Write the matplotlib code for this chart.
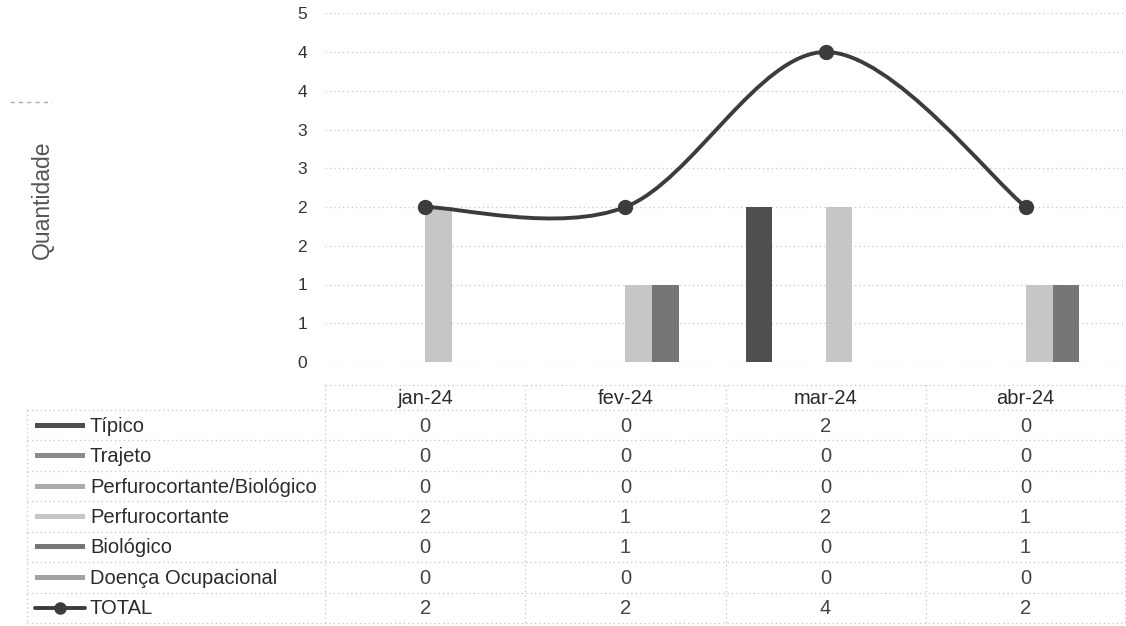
import numpy as np
import matplotlib
matplotlib.use("Agg")
import matplotlib.pyplot as plt
from matplotlib.path import Path
from matplotlib.patches import PathPatch, Rectangle
from matplotlib.lines import Line2D

plt.rcParams['font.family'] = ['Liberation Sans', 'DejaVu Sans']

# ---- data ----
months = ["jan-24", "fev-24", "mar-24", "abr-24"]
series_names = ["Típico", "Trajeto", "Perfurocortante/Biológico",
                "Perfurocortante", "Biológico", "Doença Ocupacional"]
tipico = [0, 0, 2, 0]
trajeto = [0, 0, 0, 0]
perf_bio = [0, 0, 0, 0]
perfuro = [2, 1, 2, 1]
biologico = [0, 1, 0, 1]
doenca = [0, 0, 0, 0]
total = [2, 2, 4, 2]
y_ticks = [0, 0.5, 1, 1.5, 2, 2.5, 3, 3.5, 4, 4.5]
y_tick_labels = ["0", "1", "1", "2", "2", "3", "3", "4", "4", "5"]
y_label = "Quantidade"
total_name = "TOTAL"

series = [tipico, trajeto, perf_bio, perfuro, biologico, doenca]
colors = ["#4f4f4f", "#8a8a8a", "#ababab", "#c6c6c6", "#767676", "#a2a2a2"]
line_color = "#3c3c3c"
grid_color = "#c8c8c8"
text_color = "#2b2b2b"

W, H = 1126, 626
fig = plt.figure(figsize=(W / 100, H / 100), dpi=100)

# chart axes (pixel layout)
ax_l, ax_r = 325, 1126
ax_top, ax_bot = 13.25, 362
ax = fig.add_axes([ax_l / W, 1 - ax_bot / H, (ax_r - ax_l) / W, (ax_bot - ax_top) / H])
ax.set_xlim(-0.5, 3.5)
ax.set_ylim(0, 4.5)
for s in ax.spines.values():
    s.set_visible(False)
ax.set_xticks([])
ax.set_yticks(y_ticks)
ax.set_yticklabels(y_tick_labels, fontsize=12.5, color="#333333")
ax.tick_params(axis="y", length=0, pad=13)
ax.yaxis.grid(True, linestyle=(0, (1, 2.5)), color=grid_color, linewidth=0.9)
ax.set_axisbelow(True)

x = np.arange(len(months))
n = len(series)
gap = 1.5
slot = 1.0 / (n + gap)
for i, (vals, c) in enumerate(zip(series, colors)):
    centers = x - 0.5 + gap / 2 * slot + (i + 0.5) * slot
    ax.bar(centers, vals, width=slot, color=c, edgecolor="none", zorder=2)

# smoothed TOTAL line (Catmull-Rom style bezier like Excel)
pts = np.column_stack([x, total]).astype(float)
verts = [tuple(pts[0])]
codes = [Path.MOVETO]
for i in range(len(pts) - 1):
    p_prev = pts[i - 1] if i > 0 else pts[i]
    p_next2 = pts[i + 2] if i + 2 < len(pts) else pts[i + 1]
    c1 = pts[i] + (pts[i + 1] - p_prev) / 6.0
    c2 = pts[i + 1] - (p_next2 - pts[i]) / 6.0
    verts += [tuple(c1), tuple(c2), tuple(pts[i + 1])]
    codes += [Path.CURVE4] * 3
patch = PathPatch(Path(verts, codes), facecolor="none", edgecolor=line_color,
                  linewidth=2.8, zorder=3, capstyle="round", clip_on=False)
ax.add_patch(patch)
ax.plot(x, total, linestyle="none", marker="o", markersize=10,
        color=line_color, zorder=4, clip_on=False)

fig.text(42 / W, 1 - 200 / H, y_label, rotation=90, ha="center", va="center",
         fontsize=16.5, color="#555555")

# small dashed mark at top-left
fig.add_artist(Line2D([10 / W, 52 / W], [1 - 102 / H, 1 - 102 / H],
                      linestyle=(0, (3, 3)), color="#aaaaaa", linewidth=1))

# ---- data table drawn in pixel coordinates ----
tab = fig.add_axes([0, 0, 1, 1])
tab.set_xlim(0, W)
tab.set_ylim(H, 0)
tab.axis("off")

bcol = "#c4c4c4"
bls = (0, (1, 2.5))
blw = 0.9
col_edges = [ax_l + (ax_r - ax_l) * k / len(months) for k in range(len(months) + 1)]
col_edges[-1] = 1125
label_left = 27
hdr_top, hdr_bot = 385, 410
row_h = (623 - hdr_bot) / 7.0
rows_bottom = hdr_bot + 7 * row_h

fs = 14.5
# header
tab.plot([col_edges[0], col_edges[-1]], [hdr_top, hdr_top], color=bcol, ls=bls, lw=blw)
for k, m in enumerate(months):
    cx = (col_edges[k] + col_edges[k + 1]) / 2
    tab.text(cx, (hdr_top + hdr_bot) / 2 + 1, m, ha="center", va="center",
             fontsize=fs, color=text_color)
# horizontal lines
for r in range(8):
    yy = hdr_bot + r * row_h
    tab.plot([label_left, col_edges[-1]], [yy, yy], color=bcol, ls=bls, lw=blw)
# vertical lines
tab.plot([label_left, label_left], [hdr_bot, rows_bottom], color=bcol, ls=bls, lw=blw)
for e in col_edges:
    tab.plot([e, e], [hdr_top, rows_bottom], color=bcol, ls=bls, lw=blw)

row_names = series_names + [total_name]
row_vals = series + [total]
for r, (name, vals) in enumerate(zip(row_names, row_vals)):
    cy = hdr_bot + (r + 0.5) * row_h
    if r < len(series):
        tab.add_patch(Rectangle((35, cy - 2.5), 50, 5, facecolor=colors[r], edgecolor="none"))
    else:
        tab.plot([35, 85], [cy, cy], color=line_color, lw=2.8, solid_capstyle="round")
        tab.plot([60], [cy], marker="o", markersize=8, color=line_color)
    tab.text(90, cy + 1, name, ha="left", va="center", fontsize=fs, color=text_color)
    for k, v in enumerate(vals):
        cx = (col_edges[k] + col_edges[k + 1]) / 2
        tab.text(cx, cy + 1, str(v), ha="center", va="center",
                 fontsize=fs, color="#444444")

fig.savefig("out.png", dpi=100)
